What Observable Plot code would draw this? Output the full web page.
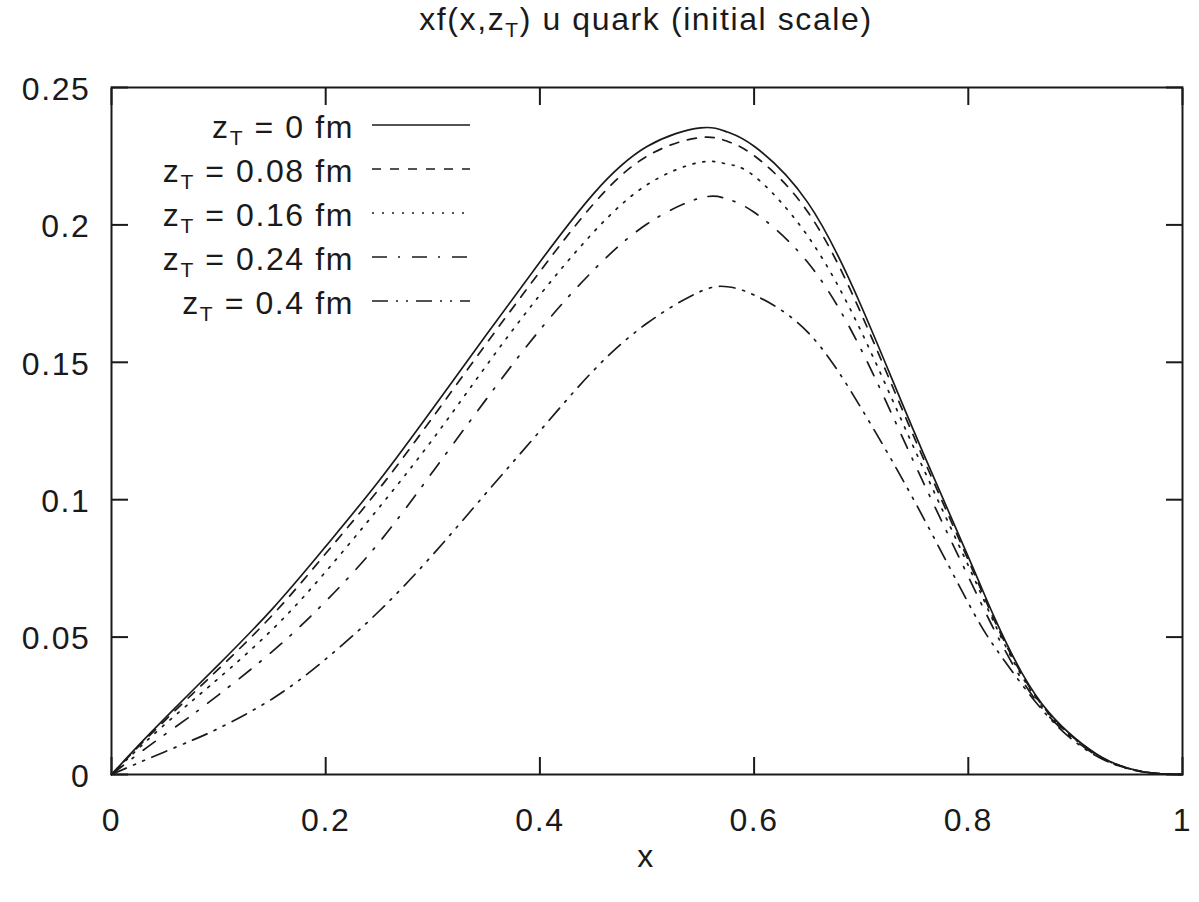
<!DOCTYPE html>
<html><head><meta charset="utf-8">
<script src="https://cdn.jsdelivr.net/npm/d3@7"></script>
<script src="https://cdn.jsdelivr.net/npm/@observablehq/plot@0.6"></script>
<style>html,body{margin:0;padding:0;background:#fff;}</style>
</head><body><div id="chart"></div>
<script>
// x grid at which the curves were read
const xGrid = [0, 0.025, 0.05, 0.075, 0.1, 0.15, 0.2, 0.25, 0.3, 0.35, 0.4, 0.45, 0.5, 0.55, 0.575, 0.6, 0.65, 0.7, 0.75, 0.8, 0.825, 0.85, 0.875, 0.9, 0.925, 0.95, 0.975, 1];
// zT = 0 fm
const zT0 = [0, 0.0105, 0.0205, 0.0303, 0.0400, 0.0602, 0.0830, 0.1070, 0.1332, 0.1600, 0.1865, 0.2113, 0.2285, 0.2353, 0.2338, 0.2286, 0.2082, 0.1705, 0.1242, 0.0792, 0.0566, 0.0370, 0.0227, 0.0131, 0.0062, 0.0022, 0.0004, 0];
// zT = 0.08 fm
const zT008 = [0, 0.0101, 0.0197, 0.0291, 0.0384, 0.0579, 0.0804, 0.1040, 0.1300, 0.1568, 0.1830, 0.2076, 0.2250, 0.2318, 0.2304, 0.2252, 0.2048, 0.1677, 0.1222, 0.0780, 0.0555, 0.0364, 0.0223, 0.0129, 0.0061, 0.0022, 0.0004, 0];
// zT = 0.16 fm
const zT016 = [0, 0.0094, 0.0183, 0.0267, 0.0350, 0.0527, 0.0738, 0.0972, 0.1220, 0.1488, 0.1745, 0.1973, 0.2146, 0.2228, 0.2221, 0.2178, 0.1960, 0.1612, 0.1182, 0.0760, 0.0545, 0.0358, 0.0220, 0.0127, 0.0060, 0.0022, 0.0004, 0];
// zT = 0.24 fm
const zT024 = [0, 0.0075, 0.0146, 0.0216, 0.0290, 0.0447, 0.0630, 0.0845, 0.1102, 0.1366, 0.1618, 0.1835, 0.2003, 0.2098, 0.2094, 0.2046, 0.1864, 0.1546, 0.1130, 0.0720, 0.0520, 0.0345, 0.0213, 0.0123, 0.0058, 0.0021, 0.0004, 0];
// zT = 0.4 fm
const zT04 = [0, 0.0042, 0.0083, 0.0124, 0.0168, 0.0275, 0.0420, 0.0595, 0.0800, 0.1025, 0.1250, 0.1470, 0.1642, 0.1758, 0.1775, 0.1745, 0.1610, 0.1333, 0.0993, 0.0624, 0.0462, 0.0328, 0.0209, 0.0118, 0.0056, 0.0020, 0.0004, 0];

const seriesValues = [zT0, zT008, zT016, zT024, zT04];
const seriesNames = ["0", "0.08", "0.16", "0.24", "0.4"];
const dashPatterns = ["none", "9,9", "2,8", "15,11,2,12", "16,8,2,8,2,8"];

const xTicks = [0, 0.2, 0.4, 0.6, 0.8, 1];
const xTickLabels = ["0", "0.2", "0.4", "0.6", "0.8", "1"];
const yTicks = [0, 0.05, 0.1, 0.15, 0.2, 0.25];
const yTickLabels = ["0", "0.05", "0.1", "0.15", "0.2", "0.25"];

const INK = "#1a1a1a";
const xLab = new Map(xTicks.map((t, i) => [t, xTickLabels[i]]));
const yLab = new Map(yTicks.map((t, i) => [t, yTickLabels[i]]));

const lineMarks = seriesValues.map((vals, k) =>
  Plot.line(xGrid.map((x, i) => ({x, y: vals[i]})), {
    x: "x", y: "y", stroke: INK, strokeWidth: 1.7,
    strokeDasharray: dashPatterns[k] === "none" ? null : dashPatterns[k],
    curve: "natural"
  })
);

const chart = Plot.plot({
  width: 1199, height: 902,
  marginLeft: 111, marginRight: 17, marginTop: 87, marginBottom: 128,
  style: {fontFamily: "'Liberation Sans', Arial, sans-serif", fontSize: "32px", color: INK, background: "#fff", letterSpacing: "1.6px"},
  x: {domain: [0, 1]},
  y: {domain: [0, 0.25]},
  marks: [
    ...lineMarks,
    // inward ticks, mirrored on all four sides
    Plot.axisX(xTicks, {anchor: "bottom", tickSize: -17, tickFormat: () => "", strokeWidth: 2, label: null}),
    Plot.axisX(xTicks, {anchor: "top", tickSize: -17, tickFormat: () => "", strokeWidth: 2, label: null}),
    Plot.axisY(yTicks, {anchor: "left", tickSize: -17, tickFormat: () => "", strokeWidth: 2, label: null}),
    Plot.axisY(yTicks, {anchor: "right", tickSize: -17, tickFormat: () => "", strokeWidth: 2, label: null}),
    // tick labels
    Plot.axisX(xTicks, {anchor: "bottom", tickSize: 0, tickPadding: 34, tickFormat: d => xLab.get(d), label: null, fill: INK}),
    Plot.axisY(yTicks, {anchor: "left", tickSize: 0, tickPadding: 21, tickFormat: d => yLab.get(d), label: null, fill: INK, dy: 2}),
    Plot.frame({stroke: INK, strokeWidth: 2})
  ]
});

document.getElementById("chart").appendChild(chart);

const svg = d3.select(chart);
// title with subscript
const title = svg.append("text")
  .attr("x", 646).attr("y", 30).attr("text-anchor", "middle")
  .attr("fill", INK).style("font-size", "32px");
title.append("tspan").text("xf(x,z");
title.append("tspan").text("T").attr("dy", 7).style("font-size", "21px");
title.append("tspan").text(") u quark (initial scale)").attr("dy", -7);

// x axis label
svg.append("text").attr("x", 646).attr("y", 867).attr("text-anchor", "middle")
  .attr("fill", INK).style("font-size", "32px").text("x");

// legend
seriesNames.forEach((name, k) => {
  const yl = 125 + k * 44;
  const t = svg.append("text").attr("x", 354).attr("y", yl + 13)
    .attr("text-anchor", "end").attr("fill", INK).style("font-size", "32px");
  t.append("tspan").text("z");
  t.append("tspan").text("T").attr("dy", 7).style("font-size", "21px");
  t.append("tspan").text(` = ${name} fm`).attr("dy", -7);
  svg.append("line").attr("x1", 372).attr("x2", 470).attr("y1", yl).attr("y2", yl)
    .attr("stroke", INK).attr("stroke-width", 1.7)
    .attr("stroke-dasharray", dashPatterns[k] === "none" ? null : dashPatterns[k]);
});
</script>
</body></html>
